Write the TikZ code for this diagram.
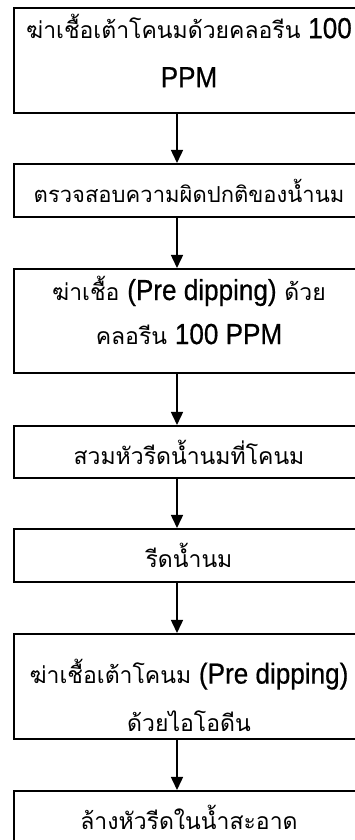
\documentclass[tikz,border=0pt]{standalone}
\usepackage{fontspec}
\newfontfamily\thaifont[Script=Thai]{Loma}
\newfontfamily\latfont[FakeBold=0.6,FakeStretch=0.9]{Liberation Sans}
\usetikzlibrary{arrows.meta}
\tikzset{
  stepbox/.style={draw, line width=2pt, minimum width=350pt, inner sep=0pt, align=center,
    font=\thaifont\fontsize{23}{44}\selectfont, anchor=north west},
  steptext/.style={inner sep=0pt, align=center, font=\thaifont\fontsize{23}{44}\selectfont},
  flow/.style={line width=1.5pt, -{Triangle[width=12pt,length=13pt]}}
}
\newcommand{\lt}[1]{{\latfont\fontsize{29}{44}\selectfont #1}}
\begin{document}
\begin{tikzpicture}[x=1pt,y=1pt]
\useasboundingbox (0,0) rectangle (354,840);
\fill[white] (0,0) rectangle (354,840);
\node[stepbox, minimum height=105pt] (b1) at (13,833) {};
\node[steptext] (t1) at ([yshift=10pt]b1.center) {ฆ่าเชื้อเต้าโคนมด้วยคลอรีน \lt{100}\\[5pt] \lt{PPM}};
\node[stepbox, minimum height=53pt, font=\thaifont\fontsize{22}{44}\selectfont] (b2) at (13,677) {ตรวจสอบความผิดปกติของน้ำนม};
\node[stepbox, minimum height=104pt] (b3) at (13,572) {};
\node[steptext] (t3) at ([yshift=11pt]b3.center) {ฆ่าเชื้อ \lt{(Pre dipping)} ด้วย\\ คลอรีน \lt{100 PPM}};
\node[stepbox, minimum height=52pt] (b4) at (13,415) {สวมหัวรีดน้ำนมที่โคนม};
\node[stepbox, minimum height=53pt] (b5) at (13,312) {รีดน้ำนม};
\node[stepbox, minimum height=105pt] (b6) at (13,207) {};
\node[steptext] (t6) at ([yshift=-9pt]b6.center) {ฆ่าเชื้อเต้าโคนม \lt{(Pre dipping)}\\[4pt] ด้วยไอโอดีน};
\node[stepbox, minimum height=53pt] (b7) at (13,50) {ล้างหัวรีดในน้ำสะอาด};
\foreach \a/\b in {b1/b2,b2/b3,b3/b4,b4/b5,b5/b6,b6/b7}
  \draw[flow] (\a.south west -| 177,0) -- (\b.north west -| 177,0);
\end{tikzpicture}
\end{document}
